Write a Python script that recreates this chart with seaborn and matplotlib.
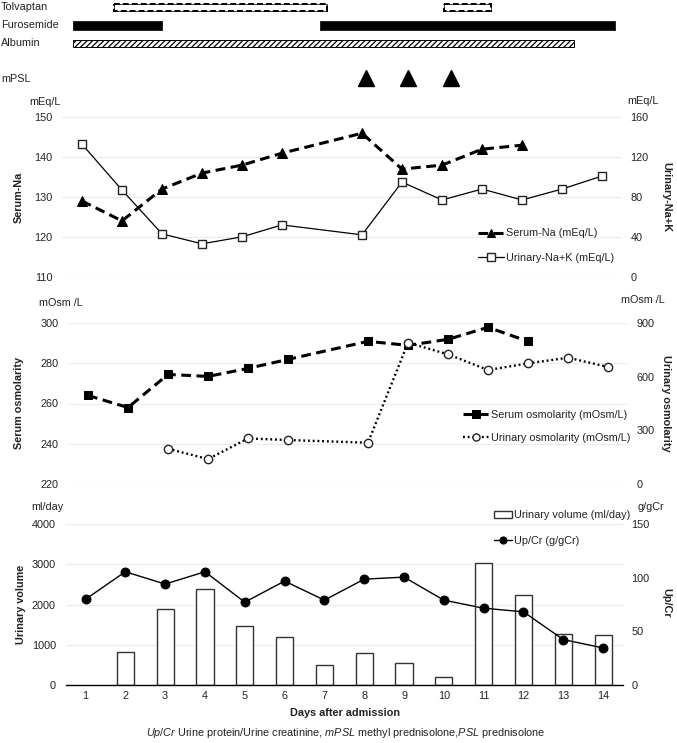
import numpy as np
import matplotlib
matplotlib.use('Agg')
import matplotlib.pyplot as plt
import matplotlib.transforms as mtransforms
from matplotlib.patches import Patch
import seaborn as sns

sns.set_style('white')
plt.rcParams['font.family'] = ['Liberation Sans', 'DejaVu Sans']
plt.rcParams['mathtext.fontset'] = 'custom'
plt.rcParams['mathtext.rm'] = 'Liberation Sans'
plt.rcParams['mathtext.it'] = 'Liberation Sans:italic'
plt.rcParams['hatch.linewidth'] = 0.9

# ── data
days = list(range(1, 15))

na_days = [1, 2, 3, 4, 5, 6, 8, 9, 10, 11, 12]
serum_na = [129, 124, 132, 136, 138, 141, 146, 137, 138, 142, 143]
nak_days = [1, 2, 3, 4, 5, 6, 8, 9, 10, 11, 12, 13, 14]
urine_nak = [133, 87, 43, 33, 40, 52, 42, 95, 77, 88, 77, 88, 101]

sosm_days = [1, 2, 3, 4, 5, 6, 8, 9, 10, 11, 12]
serum_osm = [264, 258, 274.5, 273.5, 277.5, 282, 291, 289, 292, 298, 291]
uosm_days = [3, 4, 5, 6, 8, 9, 10, 11, 12, 13, 14]
urine_osm = [196, 138, 254, 245, 230, 791, 726, 638, 675, 707, 655]

vol_days = [2, 3, 4, 5, 6, 7, 8, 9, 10, 11, 12, 13, 14]
urine_vol = [810, 1880, 2380, 1460, 1190, 500, 790, 545, 190, 3040, 2240, 1260, 1235]
upcr = [80, 105.7, 94.2, 105.7, 77.3, 97, 79.2, 98.8, 100.7, 79.2, 71.7, 68.3, 42.4, 34.6]

# treatment periods (days)
tolvaptan = [(1.8, 7.13), (10.04, 11.22)]
furosemide = [(0.77, 2.99), (6.95, 14.33)]
albumin = [(0.77, 13.29)]
mpsl = [8.1, 9.16, 10.22]

W, H = 677, 743
fig = plt.figure(figsize=(W / 100, H / 100), dpi=100)


def rect(x0, y0, x1, y1):
    return [x0 / W, 1 - y1 / H, (x1 - x0) / W, (y1 - y0) / H]


FS = 7.8
TXT = '#222222'
GRID = '#ededed'


def style(ax, ylim, yticks, right=False, grid=True):
    ax.set_ylim(*ylim)
    ax.set_yticks(yticks)
    ax.set_xlim(0.5, 14.5)
    for s in ax.spines.values():
        s.set_visible(False)
    ax.tick_params(axis='y', length=0, labelsize=FS, labelcolor=TXT, pad=6 if right else 7)
    ax.tick_params(axis='x', length=0)
    ax.set_facecolor('none')
    if grid:
        ax.yaxis.grid(True, color=GRID, lw=0.9)
    else:
        ax.grid(False)
    ax.set_xlabel('')
    ax.set_ylabel('')


# ── treatment strip
axt = fig.add_axes(rect(62, 0, 622, 95))
axt.set_xlim(0.5, 14.5)
axt.set_ylim(4.87, -0.406)
axt.axis('off')
for s, e in tolvaptan:
    axt.barh(0, e - s, left=s, height=0.37, color='white', edgecolor='#444444', lw=0.7)
    axt.barh(0, e - s, left=s, height=0.37, color='none', edgecolor='black', lw=1.4, ls=(0, (3, 1.6)))
for s, e in furosemide:
    axt.barh(1, e - s, left=s, height=0.52, color='black', edgecolor='black', lw=0.5)
for s, e in albumin:
    axt.barh(2, e - s, left=s, height=0.41, color='white', edgecolor='black', lw=0.7, hatch='//////')
axt.plot(mpsl, [3.95] * len(mpsl), ls='none', marker='^', ms=12, color='black')
tr = mtransforms.blended_transform_factory(fig.transFigure, axt.transData)
for row, name in zip([0, 1, 2, 4], ['Tolvaptan', 'Furosemide', 'Albumin', 'mPSL']):
    axt.text(1 / W, row, name, transform=tr, va='center', ha='left', fontsize=FS, color=TXT)

# ── panel 1: sodium
ax1 = fig.add_axes(rect(62, 117.3, 622, 276.7))
ax1b = ax1.twinx()
sns.lineplot(x=na_days, y=serum_na, ax=ax1, color='black', lw=2.2, ls=(0, (3.2, 1.8)),
             marker='^', ms=7.5, mec='black', label='Serum-Na (mEq/L)', legend=False)
sns.lineplot(x=nak_days, y=urine_nak, ax=ax1b, color='black', lw=0.9,
             marker='s', ms=6, mfc='white', mec='#222222', mew=1, label='Urinary-Na+K (mEq/L)', legend=False)
style(ax1, (110, 150), [110, 120, 130, 140, 150])
style(ax1b, (0, 160), [0, 40, 80, 120, 160], right=True, grid=False)
ax1.set_xticks([])
ax1b.set_xticks([])
h1 = [ax1.lines[0], ax1b.lines[0]]
fig.legend(h1, [h.get_label() for h in h1], loc='center left', bbox_to_anchor=(478 / W, 1 - 245.8 / H),
           frameon=False, fontsize=FS, borderpad=0, borderaxespad=0, handlelength=2.4,
           handletextpad=0.2, labelspacing=1.35, labelcolor=TXT, markerscale=0.85)

# ── panel 2: osmolarity
ax2 = fig.add_axes(rect(68, 323.3, 628, 483.7))
ax2b = ax2.twinx()
sns.lineplot(x=sosm_days, y=serum_osm, ax=ax2, color='black', lw=2.2, ls=(0, (3.2, 1.8)),
             marker='s', ms=6.3, mec='black', label='Serum osmolarity (mOsm/L)', legend=False)
sns.lineplot(x=uosm_days, y=urine_osm, ax=ax2b, color='black', lw=1.7, ls=(0, (0.8, 1.2)),
             marker='o', ms=6, mfc='white', mec='#222222', mew=1, label='Urinary osmolarity (mOsm/L)', legend=False)
style(ax2, (220, 300), [220, 240, 260, 280, 300])
style(ax2b, (0, 900), [0, 300, 600, 900], right=True, grid=False)
ax2.set_xticks([])
ax2b.set_xticks([])
h2 = [ax2.lines[0], ax2b.lines[0]]
fig.legend(h2, [h.get_label() for h in h2], loc='center left', bbox_to_anchor=(463 / W, 1 - 426.3 / H),
           frameon=False, fontsize=FS, borderpad=0, borderaxespad=0, handlelength=2.4,
           handletextpad=0.2, labelspacing=1.25, labelcolor=TXT, markerscale=0.85)

# ── panel 3: urinary volume and Up/Cr
ax3 = fig.add_axes(rect(65.6, 524.3, 623, 685))
ax3b = ax3.twinx()
sns.barplot(x=vol_days, y=urine_vol, ax=ax3, native_scale=True, width=0.43, color='white',
            edgecolor='#333333', linewidth=1, errorbar=None)
sns.lineplot(x=days, y=upcr, ax=ax3b, color='black', lw=1.0,
             marker='o', ms=6.4, mec='black', label='Up/Cr (g/gCr)', legend=False)
style(ax3, (0, 4000), [0, 1000, 2000, 3000, 4000])
style(ax3b, (0, 150), [0, 50, 100, 150], right=True, grid=False)
ax3.set_xticks(days)
ax3.set_xticklabels([str(d) for d in days])
ax3.tick_params(axis='x', labelsize=FS, labelcolor=TXT, pad=4)
ax3b.set_xticks(days)
ax3.spines['bottom'].set_visible(True)
ax3.spines['bottom'].set_color('black')
ax3.spines['bottom'].set_linewidth(1)
h3 = [Patch(facecolor='white', edgecolor='#333333', lw=1, label='Urinary volume (ml/day)'), ax3b.lines[0]]
fig.legend(h3, [h.get_label() for h in h3], loc='center left', bbox_to_anchor=(494 / W, 1 - 528 / H),
           frameon=False, fontsize=FS, borderpad=0, borderaxespad=0, handlelength=1.7,
           handletextpad=0.15, labelspacing=1.45, labelcolor=TXT, markerscale=0.8)

# ── axis titles and units
def ftext(x, y, s, **kw):
    fig.text(x / W, 1 - y / H, s, fontsize=FS, color=TXT, ha='center', va='center', **kw)


ftext(45, 102, 'mEq/L')
ftext(643, 101, 'mEq/L')
ftext(61, 303, 'mOsm /L')
ftext(643, 300, 'mOsm /L')
ftext(47, 507, 'ml/day')
ftext(651, 507, 'g/gCr')
ftext(19, 197, 'Serum-Na', rotation=90, weight='bold')
ftext(666, 197, 'Urinary-Na+K', rotation=270, weight='bold')
ftext(19, 403, 'Serum osmolarity', rotation=90, weight='bold')
ftext(666, 403, 'Urinary osmolarity', rotation=270, weight='bold')
ftext(21, 604, 'Urinary volume', rotation=90, weight='bold')
ftext(666, 603, 'Up/Cr', rotation=270, weight='bold')
ftext(345, 713, 'Days after admission', weight='bold')
ftext(346, 733, r'$\it{Up/Cr}$ Urine protein/Urine creatinine, $\it{mPSL}$ methyl prednisolone,$\it{PSL}$ prednisolone')

fig.savefig('out.png', dpi=100)
